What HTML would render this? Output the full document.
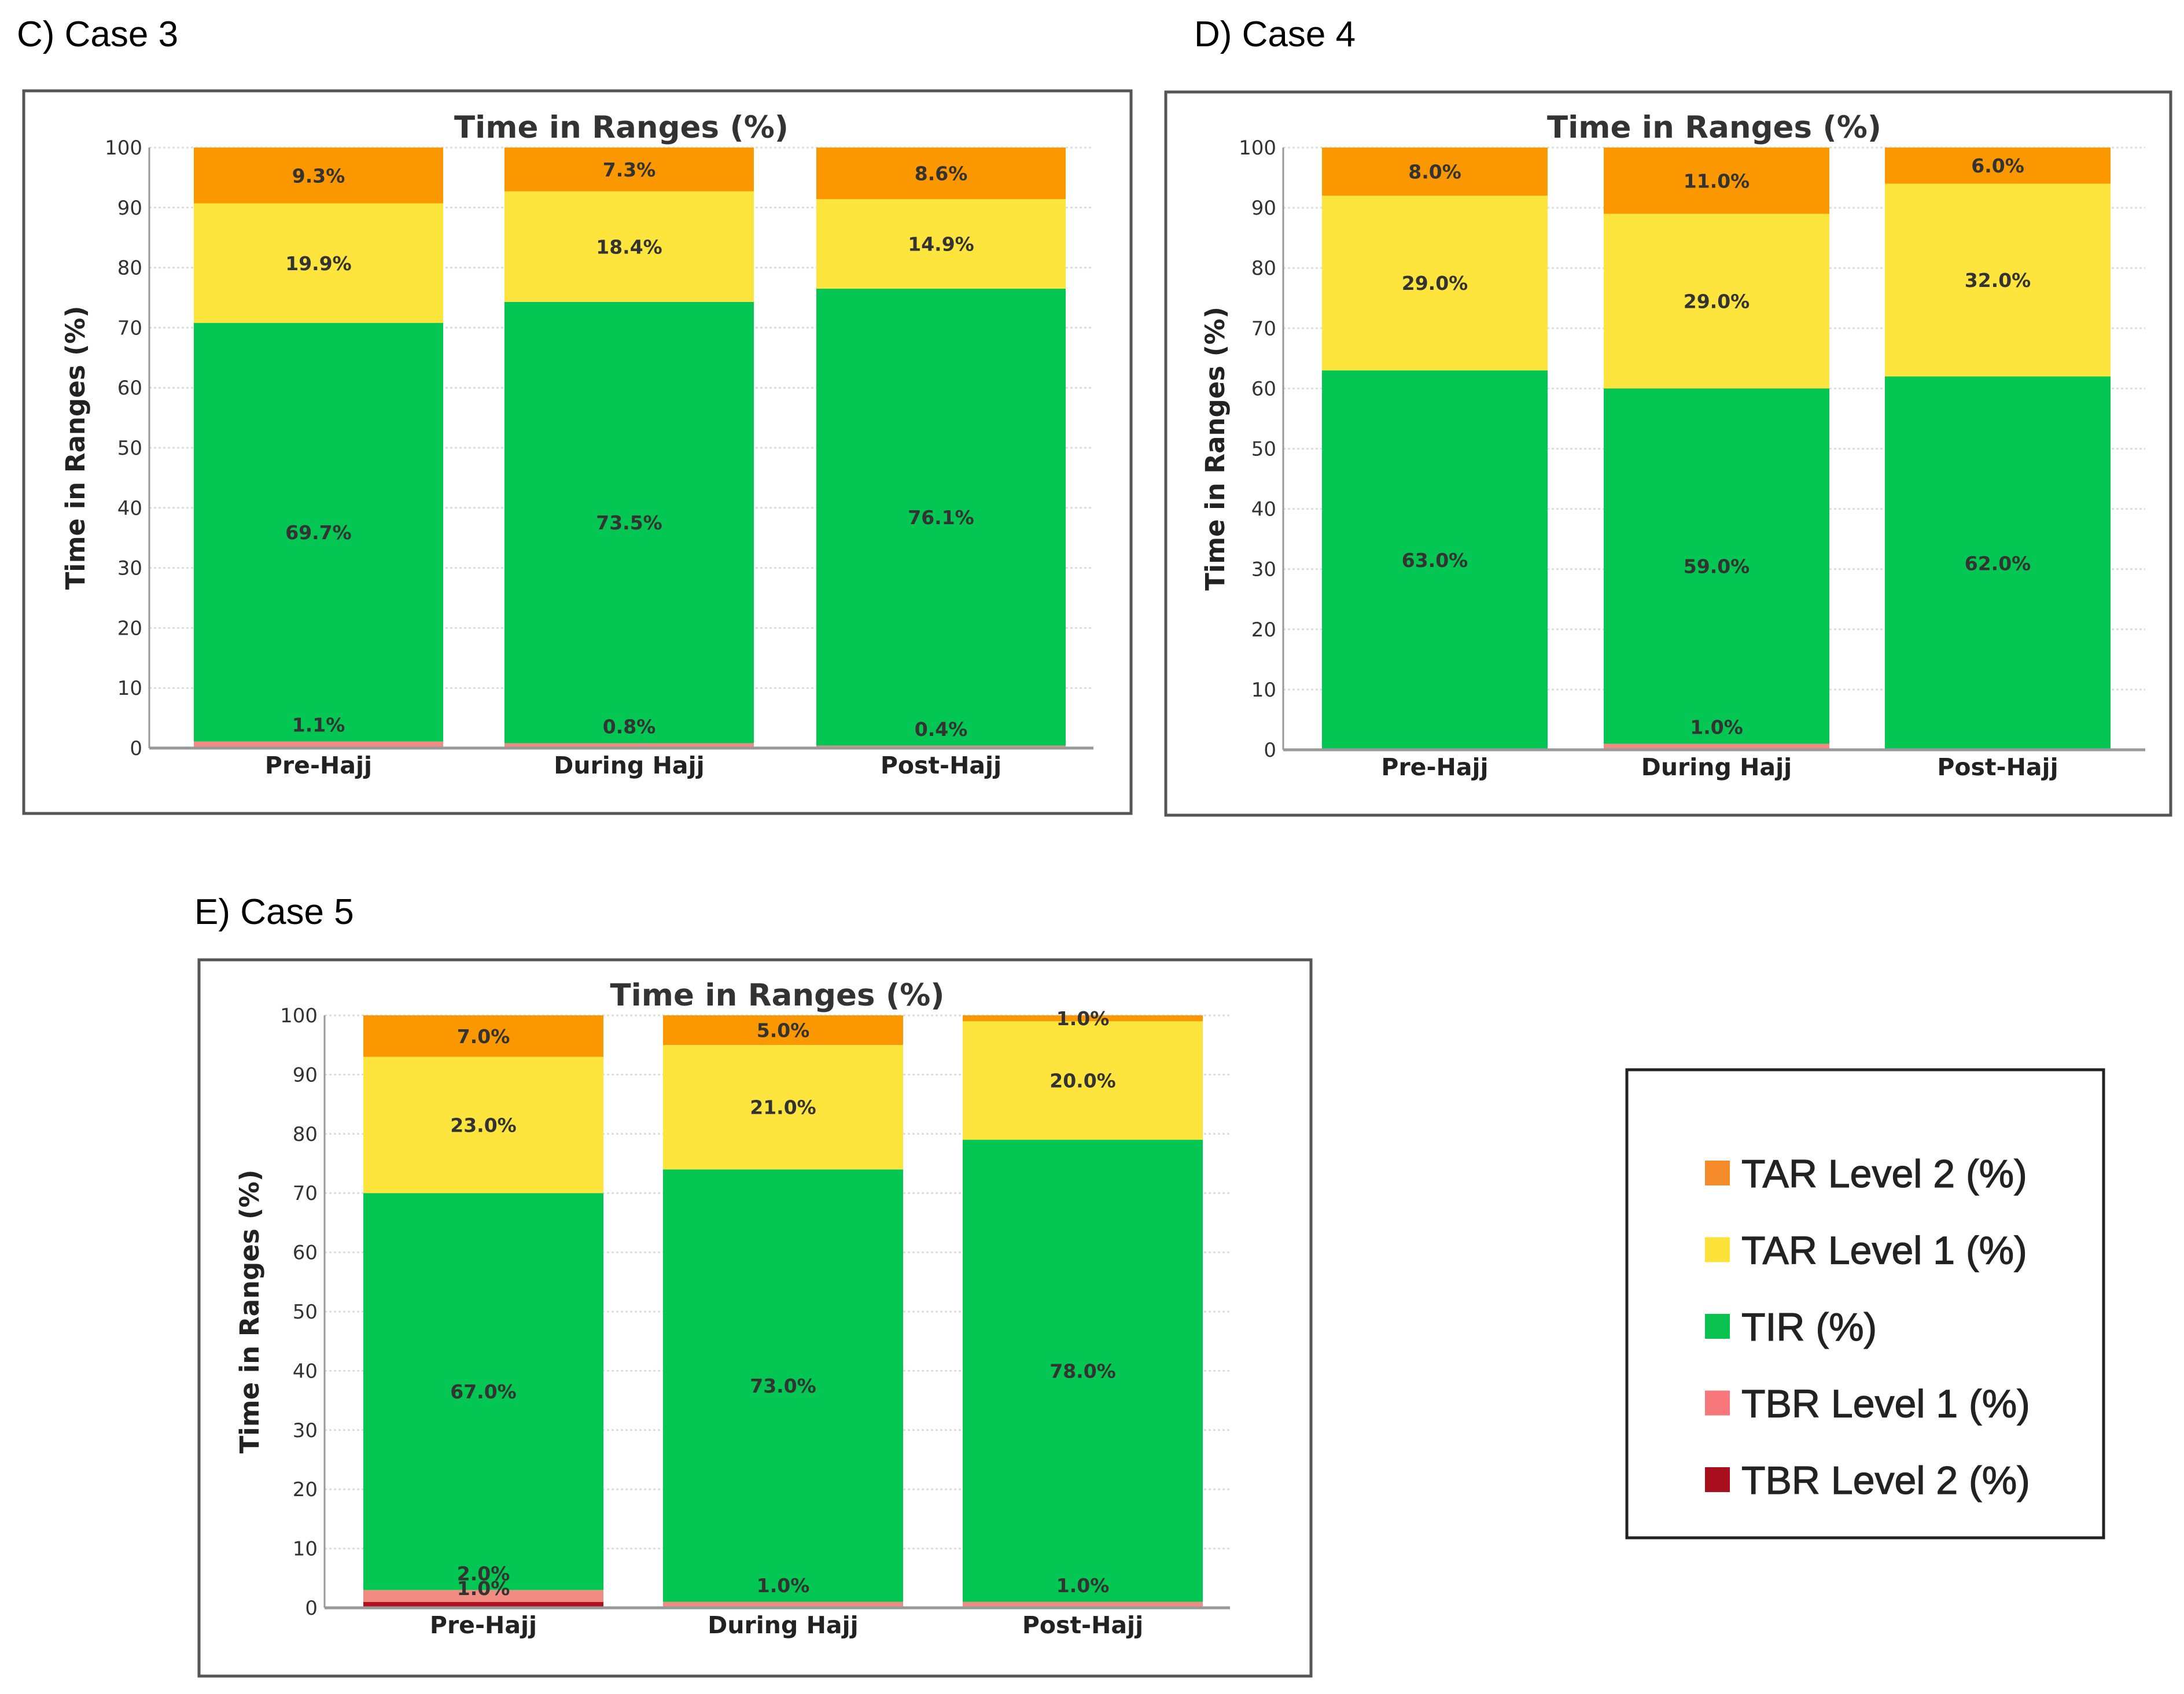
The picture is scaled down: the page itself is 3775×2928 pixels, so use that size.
<!DOCTYPE html>
<html><head><meta charset="utf-8">
<style>
html,body{margin:0;padding:0;background:#fff;}
svg{display:block;}
text{font-family:"DejaVu Sans","Liberation Sans",sans-serif;}
</style></head>
<body>
<svg id="root" width="3775" height="2928" viewBox="0 0 3775 2928" xmlns="http://www.w3.org/2000/svg"></svg>
<script>
const categories = ["Pre-Hajj","During Hajj","Post-Hajj"];
const seriesNames = ["TBR Level 2 (%)","TBR Level 1 (%)","TIR (%)","TAR Level 1 (%)","TAR Level 2 (%)"];
const seriesColors = ["#b3101f","#f28b82","#04c652","#fde53d","#fb9800"];
const case3TBR2 = [0,0,0];
const case3TBR1 = [1.1,0.8,0.4];
const case3TIR = [69.7,73.5,76.1];
const case3TAR1 = [19.9,18.4,14.9];
const case3TAR2 = [9.3,7.3,8.6];
const case4TBR2 = [0,0,0];
const case4TBR1 = [0,1.0,0];
const case4TIR = [63.0,59.0,62.0];
const case4TAR1 = [29.0,29.0,32.0];
const case4TAR2 = [8.0,11.0,6.0];
const case5TBR2 = [1.0,0,0];
const case5TBR1 = [2.0,1.0,1.0];
const case5TIR = [67.0,73.0,78.0];
const case5TAR1 = [23.0,21.0,20.0];
const case5TAR2 = [7.0,5.0,1.0];
const yTicks = [0,10,20,30,40,50,60,70,80,90,100];

const NS="http://www.w3.org/2000/svg";
const root=document.getElementById('root');
function mk(tag,attrs,parent,txt){const e=document.createElementNS(NS,tag);for(const k in attrs)e.setAttribute(k,attrs[k]);if(txt!==undefined)e.textContent=txt;(parent||root).appendChild(e);return e;}

function drawPanel(cfg){
  const g=mk('g',{});
  
  
  const lab=mk('text',{x:cfg.lx,y:cfg.ly,'font-size':62,fill:'#000',style:'font-family:"Liberation Sans",sans-serif'},g,cfg.label);
  
  
  const fr=mk('rect',{x:cfg.bx,y:cfg.by,width:cfg.bw,height:cfg.bh,fill:'#fff',stroke:'#555','stroke-width':5},g);
  
  
  const y=v=>cfg.y0-(cfg.y0-cfg.y100)*v/100;
  const x=i=>cfg.barX[i];
  yTicks.forEach(t=>{
    const gl=mk('line',{x1:cfg.ax,x2:cfg.ar,y1:y(t),y2:y(t),stroke:'#ddd','stroke-width':3,'stroke-dasharray':'4 4'},g);
    
    
    const tl=mk('text',{x:cfg.ax-12,y:y(t)+12,'font-size':34,fill:'#333','text-anchor':'end'},g,String(t));
    
    
  });
  const series=cfg.series;
  const labels=[];
  categories.forEach((c,i)=>{
    let base=0;
    series.forEach((s,k)=>{
      const v=s[i];
      if(v>0){
        const r=mk('rect',{x:x(i),y:y(base+v),width:cfg.bw2,height:y(base)-y(base+v),fill:seriesColors[k]},g);
        
        
        let lv = base+v/2;
        if(v<3 && k===0) lv = base+v+2.3;
        else if(v<3 && k===1) lv = base+v+2.8;
        labels.push([x(i)+cfg.bw2/2, y(lv)+12, v.toFixed(1)+'%']);
      }
      base+=v;
    });
    const xl=mk('text',{x:x(i)+cfg.bw2/2,y:cfg.y0+44,'font-size':41,'font-weight':'bold',fill:'#222','text-anchor':'middle'},g,c);
    
    
  });
  const ax=mk('line',{x1:cfg.ax,x2:cfg.ar,y1:cfg.y0,y2:cfg.y0,stroke:'#999','stroke-width':5},g);
  
  
  const ay=mk('line',{x1:cfg.ax,x2:cfg.ax,y1:cfg.y100,y2:cfg.y0,stroke:'#999','stroke-width':3},g);
  
  
  labels.forEach(L=>{
    const t=mk('text',{x:L[0],y:L[1],'font-size':33,'font-weight':'bold',fill:'#333','text-anchor':'middle'},g,L[2]);
    
    
  });
  const ti=mk('text',{x:(cfg.ax+cfg.ar)/2,y:cfg.ty,'font-size':53,'font-weight':'bold',fill:'#333','text-anchor':'middle'},g,'Time in Ranges (%)');
  
  
  const yt=mk('text',{x:0,y:0,'font-size':45,'font-weight':'bold',fill:'#222','text-anchor':'middle',transform:`translate(${cfg.ytx},${(cfg.y0+cfg.y100)/2}) rotate(-90)`},g,'Time in Ranges (%)');
  
  
}

drawPanel({name:'case-3-chart',label:'C) Case 3',lx:29,ly:80,bx:41,by:157,bw:1914,bh:1249,
  y0:1293,y100:255,ax:258,ar:1890,barX:[335,872,1411],bw2:431,ty:238,ytx:146,
  series:[case3TBR2,case3TBR1,case3TIR,case3TAR1,case3TAR2]});
drawPanel({name:'case-4-chart',label:'D) Case 4',lx:2064,ly:80,bx:2015,by:159,bw:1737,bh:1250,
  y0:1296,y100:255,ax:2218,ar:3708,barX:[2285,2772,3258],bw2:390,ty:238,ytx:2116,
  series:[case4TBR2,case4TBR1,case4TIR,case4TAR1,case4TAR2]});
drawPanel({name:'case-5-chart',label:'E) Case 5',lx:336,ly:1597,bx:344,by:1659,bw:1922,bh:1238,
  y0:2779,y100:1755,ax:561,ar:2126,barX:[628,1146,1664],bw2:415,ty:1738,ytx:447,
  series:[case5TBR2,case5TBR1,case5TIR,case5TAR1,case5TAR2]});

const lg=mk('g',{});


const lr=mk('rect',{x:2812,y:1849,width:824,height:809,fill:'#fff',stroke:'#222','stroke-width':5},lg);


const legendOrder=[4,3,2,1,0];
const legendColors=["#a8101e","#f7787a","#0ac24f","#fde23a","#f58a2a"];
legendOrder.forEach((k,j)=>{
  const cy=2028+j*132.5;
  const sw=mk('rect',{x:2947,y:cy-22,width:43,height:43,fill:legendColors[k]},lg);
  
  
  const t=mk('text',{x:3010,y:cy+24,'font-size':68,fill:'#222',stroke:'#222','stroke-width':1.2,style:'font-family:"Liberation Sans",sans-serif'},lg,seriesNames[k]);
  
  
});
</script>
</body></html>
